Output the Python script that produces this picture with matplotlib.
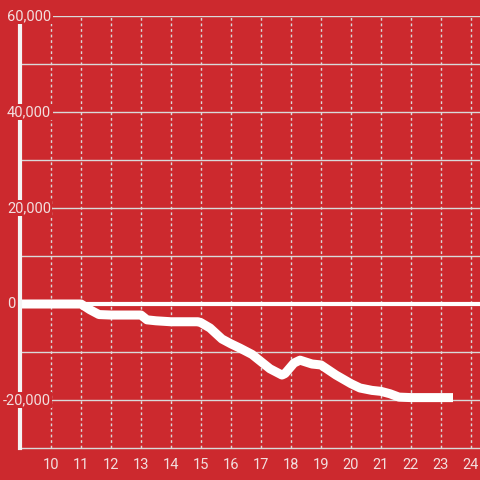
import matplotlib.pyplot as plt
import numpy as np

plt.rcParams["font.family"] = ["Roboto", "DejaVu Sans"]

# %%
hours = [8.97, 10, 11, 11.3, 11.6, 12, 13, 13.2, 13.5, 14, 14.9, 15, 15.3, 15.7, 16,
         16.3, 16.7, 17, 17.3, 17.7, 17.8, 18.1, 18.3, 18.7, 19, 19.5, 20, 20.3,
         20.7, 21, 21.3, 21.6, 22, 23.4]
values = [0, 0, 0, -1200, -2200, -2300, -2300, -3300, -3500, -3700, -3700, -3900,
          -5000, -7300, -8300, -9200, -10500, -12000, -13500, -14800, -14500,
          -12300, -11700, -12500, -12700, -14800, -16600, -17500, -18000, -18200,
          -18700, -19400, -19500, -19500]
x_ticks = list(range(10, 25))
y_ticks = [-20000, 0, 20000, 40000, 60000]

BG = "#cc292e"
TXT = "#f2dede"
GRID = "#d9d9d9"

# %%
fig = plt.figure(figsize=(4.8, 4.8), dpi=100)
fig.patch.set_facecolor(BG)
ax = fig.add_axes([20 / 480, 32 / 480, 460 / 480, 432 / 480])
ax.set_facecolor(BG)
ax.set_xlim(8.967, 24.3)
ax.set_ylim(-30000, 60000)

for v in x_ticks:
    ax.axvline(v, color=GRID, lw=1, ls=(0, (2, 2)), zorder=1)
for v in np.arange(-20000, 60001, 10000):
    if v != 0:
        ax.axhline(v, color=GRID, lw=1, zorder=1)
ax.axhline(0, color="white", lw=3, zorder=2)

ax.plot(hours, values, color="white", lw=6.5, solid_capstyle="butt", zorder=3)

for s in ["top", "right"]:
    ax.spines[s].set_visible(False)
ax.spines["left"].set_color("#f4f4f4")
ax.spines["left"].set_linewidth(3)
ax.spines["left"].set_zorder(4)
ax.spines["bottom"].set_color(GRID)
ax.spines["bottom"].set_linewidth(1)

ax.set_xticks(x_ticks)
ax.set_xticklabels([str(v) for v in x_ticks])
ax.tick_params(axis="x", length=0, colors=TXT, labelsize=10.5, pad=7)
ax.set_yticks([])

# y labels sit on the gridlines, over the axis line
for v in y_ticks:
    x0 = 3 if v < 0 else 7
    ax.text(
        (x0 - 20) / 460, v, f"{v:,}", transform=ax.get_yaxis_transform(),
        ha="left", va="center", color=TXT, fontsize=10.5, zorder=5,
        bbox=dict(facecolor=BG, edgecolor="none", pad=1), clip_on=False,
    )

fig.savefig("out.png", facecolor=BG)
